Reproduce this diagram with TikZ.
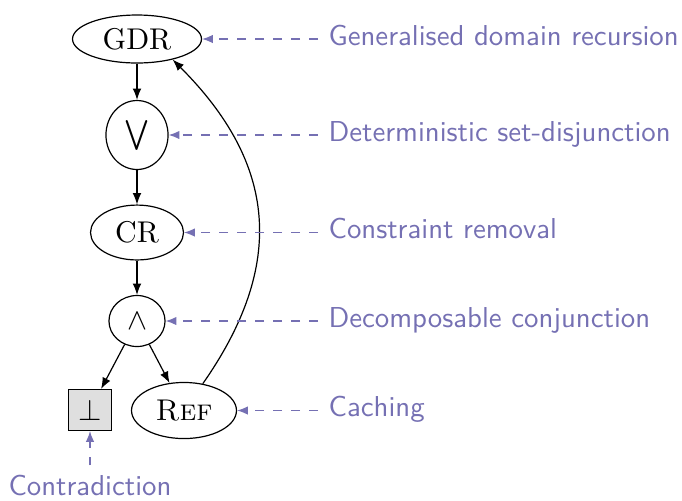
\documentclass[tikz,border=0pt]{standalone}
\usepackage{xcolor}
\usepackage{amsmath}
\usepackage{amssymb}
\usepackage{tikz}
\usetikzlibrary{shapes.geometric, arrows.meta, positioning}
\definecolor{notecol}{RGB}{117,112,179}

\begin{document}
\begin{tikzpicture} [
        x = 0.011716cm, y = -0.011716cm,
        op/.style = {ellipse, draw, inner sep=0pt},
        leaf/.style = {rectangle, draw, fill=gray!25, inner sep=0pt, minimum width=14.2pt, minimum height=13.6pt},
        flow/.style = {draw, -{Latex[length=3.8pt, width=2.9pt]}},
        note/.style = {draw, dashed, -{Latex[length=3.6pt, width=2.8pt]}, color=notecol},
        remark/.style = {font=\fontsize{9.6pt}{11pt}\sffamily, text=notecol, anchor=west, text height=1.5ex, text depth=0.5ex}
    ]

    \useasboundingbox (0,0) rectangle (682,500);

    \node[op, minimum width=43pt, minimum height=16pt]     (gdr) at (137,39)    {GDR};
    \node[op, minimum width=20.7pt, minimum height=23pt]   (or)  at (137,135)   {$\bigvee$};
    \node[op, minimum width=31pt, minimum height=18.3pt]   (cr)  at (137,232.5) {CR};
    \node[op, minimum width=18.7pt, minimum height=17pt]   (and) at (137,321)   {$\wedge$};
    \node[leaf]                                            (bot) at (90,410)    {$\bot$};
    \node[op, minimum width=35pt, minimum height=18.7pt]   (ref) at (184,410.5) {\textsc{Ref}};

    \node[remark] (r1) at (318,39)    {Generalised domain recursion};
    \node[remark] (r2) at (318,135)   {Deterministic set-disjunction};
    \node[remark] (r3) at (318,232.5) {Constraint removal};
    \node[remark] (r4) at (318,321)   {Decomposable conjunction};
    \node[remark] (r5) at (318,410.5) {Caching};
    \node[remark, anchor=center] (r6) at (90,489) {Contradiction};

    \draw[flow] (gdr) -- (or);
    \draw[flow] (or) -- (cr);
    \draw[flow] (cr) -- (and);
    \draw[flow] (and) -- (bot);
    \draw[flow] (and) -- (ref);
    \draw[flow] (ref.55) to[out=55, in=-45, looseness=1.15] (gdr.-30);

    \draw[note] (r1.west) -- (gdr);
    \draw[note] (r2.west) -- (or);
    \draw[note] (r3.west) -- (cr);
    \draw[note] (r4.west) -- (and);
    \draw[note] (r5.west) -- (ref);
    \draw[note] (r6) -- (bot);

\end{tikzpicture}
\end{document}
